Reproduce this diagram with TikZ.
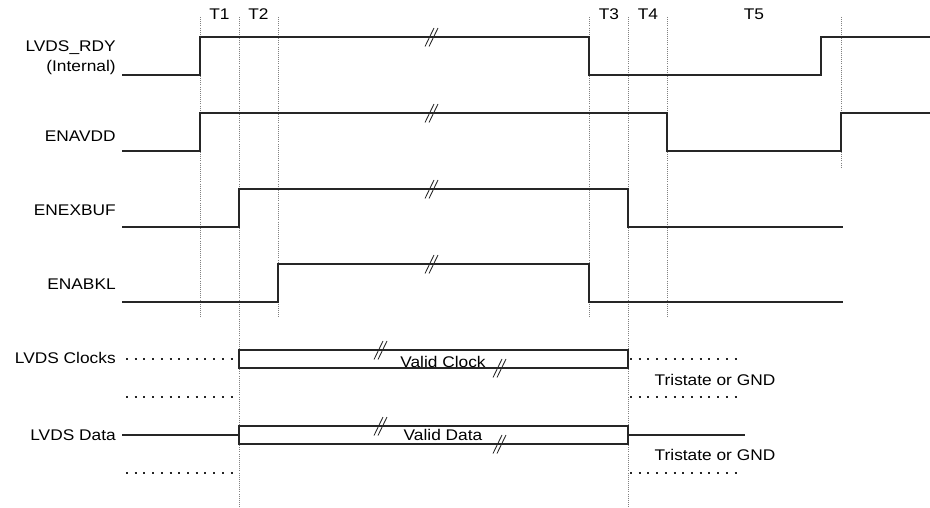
\documentclass[tikz,border=0pt]{standalone}
\usepackage{fontspec}
\setmainfont{Liberation Sans}[FakeStretch=1.12]
\usepackage{tikz}

\newcommand{\brkmark}[1]{\draw[brk,shift={(#1)}] (-7,9.5) -- (2,-9) (-3,9.5) -- (6,-9);}

\begin{document}
\begin{tikzpicture}[x=0.25mm,y=-0.25mm,
		sig/.style={line width=1pt,black!85},
		guide/.style={densely dotted,line width=0.5pt,black!50},
		float/.style={line width=1.3pt,black!85,dash pattern=on 1.4pt off 4.8pt},
		brk/.style={line width=0.6pt,black!85},
		lbl/.style={anchor=base east,inner sep=0pt,font=\fontsize{11}{13}\selectfont},
		txt/.style={anchor=base,inner sep=0pt,font=\fontsize{11}{13}\selectfont}]
		\useasboundingbox (0,0) rectangle (930,508);
%		\draw[help lines,step=50] (0,0) grid (930,508);
		\path (200,17) coordinate (g1t);
		\path (200,318) coordinate (g1b);
		\path (239,17) coordinate (g2t);
		\path (239,507) coordinate (g2b);
		\path (278,17) coordinate (g3t);
		\path (278,318) coordinate (g3b);
		\path (589,17) coordinate (g4t);
		\path (589,318) coordinate (g4b);
		\path (628,17) coordinate (g5t);
		\path (628,507) coordinate (g5b);
		\path (667,17) coordinate (g6t);
		\path (667,318) coordinate (g6b);
		\path (841,17) coordinate (g7t);
		\path (841,167) coordinate (g7b);

		\path (122,75) coordinate (rdy_s);
		\path (200,37) coordinate (rdy_up);
		\path (589,75) coordinate (rdy_dn);
		\path (821,37) coordinate (rdy_up2);
		\path (930,37) coordinate (rdy_e);

		\path (122,151) coordinate (vdd_s);
		\path (200,113) coordinate (vdd_up);
		\path (667,151) coordinate (vdd_dn);
		\path (841,113) coordinate (vdd_up2);
		\path (930,113) coordinate (vdd_e);

		\path (122,227) coordinate (buf_s);
		\path (239,189) coordinate (buf_up);
		\path (628,227) coordinate (buf_dn);
		\path (843,227) coordinate (buf_e);

		\path (122,302) coordinate (bkl_s);
		\path (278,264) coordinate (bkl_up);
		\path (589,302) coordinate (bkl_dn);
		\path (843,302) coordinate (bkl_e);

		\path (239,350) coordinate (clk_tl);
		\path (628,368) coordinate (clk_br);
		\path (126,359) coordinate (clk_hl);
		\path (239,359) coordinate (clk_hr);
		\path (630,359) coordinate (clk_hl2);
		\path (742,359) coordinate (clk_hr2);
		\path (126,397) coordinate (clk_ll);
		\path (239,397) coordinate (clk_lr);
		\path (630,397) coordinate (clk_ll2);
		\path (740,397) coordinate (clk_lr2);

		\path (239,426) coordinate (dat_tl);
		\path (628,444) coordinate (dat_br);
		\path (122,435) coordinate (dat_hl);
		\path (239,435) coordinate (dat_hr);
		\path (628,435) coordinate (dat_hl2);
		\path (745,435) coordinate (dat_hr2);
		\path (126,473) coordinate (dat_ll);
		\path (239,473) coordinate (dat_lr);
		\path (630,473) coordinate (dat_ll2);
		\path (742,473) coordinate (dat_lr2);

		\draw[guide] (g1t) -- (g1b);
		\draw[guide] (g2t) -- (g2b);
		\draw[guide] (g3t) -- (g3b);
		\draw[guide] (g4t) -- (g4b);
		\draw[guide] (g5t) -- (g5b);
		\draw[guide] (g6t) -- (g6b);
		\draw[guide] (g7t) -- (g7b);

		\node[txt] (t1) at (219.5,20) {T1};
		\node[txt] (t2) at (258.5,20) {T2};
		\node[txt] (t3) at (609,20) {T3};
		\node[txt] (t4) at (648,20) {T4};
		\node[txt] (t5) at (754,20) {T5};

		\node[lbl] (rdy) at (116,52) {LVDS\_RDY};
		\node[lbl] (rdy_int) at (116,71.7) {(Internal)};
		\node[lbl] (vdd) at (116,141.7) {ENAVDD};
		\node[lbl] (buf) at (116,215) {ENEXBUF};
		\node[lbl] (bkl) at (116,289.3) {ENABKL};
		\node[lbl] (clk) at (116,363) {LVDS Clocks};
		\node[lbl] (dat) at (116,440) {LVDS Data};

		\draw[sig] (rdy_s) -| (rdy_up) -| (rdy_dn) -| (rdy_up2) -- (rdy_e);
		\brkmark{432,37}
		\draw[sig] (vdd_s) -| (vdd_up) -| (vdd_dn) -| (vdd_up2) -- (vdd_e);
		\brkmark{432,113}
		\draw[sig] (buf_s) -| (buf_up) -| (buf_dn) -- (buf_e);
		\brkmark{432,189}
		\draw[sig] (bkl_s) -| (bkl_up) -| (bkl_dn) -- (bkl_e);
		\brkmark{432,264}

		\draw[sig] (clk_tl) rectangle (clk_br);
		\node[txt] (clk_v) at (443,367.7) {Valid Clock};
		\brkmark{381,350}
		\brkmark{500,368}
		\draw[float] (clk_hl) -- (clk_hr);
		\draw[float] (clk_hl2) -- (clk_hr2);
		\draw[float] (clk_ll) -- (clk_lr);
		\draw[float] (clk_ll2) -- (clk_lr2);
		\node[txt] (clk_z) at (715,385) {Tristate or GND};

		\draw[sig] (dat_tl) rectangle (dat_br);
		\node[txt] (dat_v) at (443,440.7) {Valid Data};
		\brkmark{381,426}
		\brkmark{500,444}
		\draw[sig] (dat_hl) -- (dat_hr);
		\draw[sig] (dat_hl2) -- (dat_hr2);
		\draw[float] (dat_ll) -- (dat_lr);
		\draw[float] (dat_ll2) -- (dat_lr2);
		\node[txt] (dat_z) at (715,460.7) {Tristate or GND};
	\end{tikzpicture}
\end{document}
